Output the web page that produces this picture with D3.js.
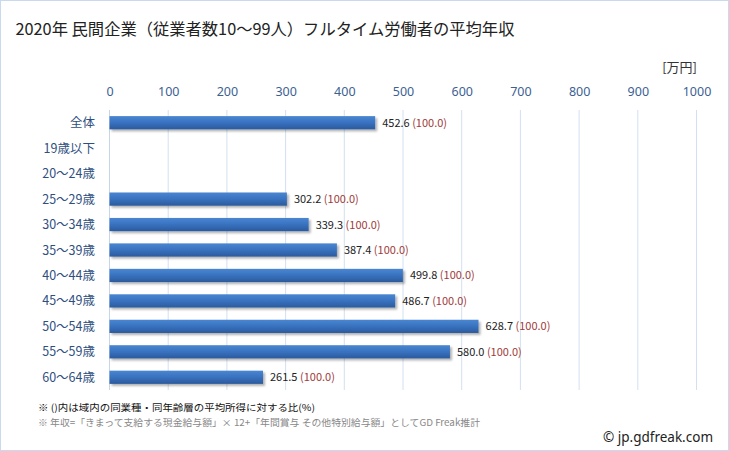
<!DOCTYPE html>
<html><head><meta charset="utf-8">
<script src="https://cdn.jsdelivr.net/npm/d3@7"></script>
<style>
body{margin:0;background:#fff;}
svg{display:block;font-family:"Noto Sans CJK JP","Noto Sans",sans-serif;}
</style></head><body>
<script>
const categories = ["全体","19歳以下","20〜24歳","25〜29歳","30〜34歳","35〜39歳","40〜44歳","45〜49歳","50〜54歳","55〜59歳","60〜64歳"];
const values = [452.6,null,null,302.2,339.3,387.4,499.8,486.7,628.7,580.0,261.5];
const ratios = [100.0,null,null,100.0,100.0,100.0,100.0,100.0,100.0,100.0,100.0];
const tickValues = [0,100,200,300,400,500,600,700,800,900,1000];

const W=729,H=451;
const svg=d3.select("body").append("svg").attr("width",W).attr("height",H);
const defs=svg.append("defs");
const g1=defs.append("linearGradient").attr("id","bg").attr("x1",0).attr("y1",0).attr("x2",0).attr("y2",1);
g1.append("stop").attr("offset","0%").attr("stop-color","#4a86d0");
g1.append("stop").attr("offset","45%").attr("stop-color","#3a74c2");
g1.append("stop").attr("offset","100%").attr("stop-color","#2b5a9c");
const f=defs.append("filter").attr("id","sh").attr("x","-5%").attr("y","-30%").attr("width","115%").attr("height","180%");
f.append("feDropShadow").attr("dx",2).attr("dy",2).attr("stdDeviation",1.2).attr("flood-color","#000").attr("flood-opacity",0.3);

svg.append("rect").attr("x",0.5).attr("y",0.5).attr("width",W-1).attr("height",H-1).attr("fill","#fff").attr("stroke","#c9d9ee");

svg.append("text").attr("x",15.5).attr("y",34.5).attr("font-size",16.3).attr("fill","#222").text("2020年 民間企業（従業者数10〜99人）フルタイム労働者の平均年収");
svg.append("text").attr("x",697).attr("y",72).attr("text-anchor","end").attr("font-size",13).attr("fill","#333").text("[万円]");

const x=d3.scaleLinear().domain([0,1000]).range([109.5,696.5]);
const y=d3.scaleBand().domain(categories).range([110,390]).paddingInner(0.48).paddingOuter(0.24);

// grid
svg.append("g").selectAll("line").data(tickValues.slice(1)).join("line")
  .attr("x1",d=>x(d)).attr("x2",d=>x(d)).attr("y1",110).attr("y2",390)
  .attr("stroke","#d3e0f1").attr("stroke-width",1);
svg.append("line").attr("x1",x(0)).attr("x2",x(0)).attr("y1",110).attr("y2",390).attr("stroke","#c5d5ea");

// top axis
const ax=svg.append("g").attr("transform","translate(0,95.5)")
  .call(d3.axisTop(x).tickValues(tickValues).tickFormat(d3.format("d")).tickSize(0).tickPadding(0));
ax.select(".domain").remove();
ax.selectAll("text").attr("font-size",12.5).attr("fill","#3d5f93").attr("font-family","'Noto Sans','Noto Sans CJK JP',sans-serif");

// category labels
svg.append("g").selectAll("text").data(categories).join("text")
  .attr("x",95).attr("y",d=>y(d)+y.bandwidth()/2+4.5).attr("text-anchor","end")
  .attr("font-size",12.5).attr("fill","#2f4f80").text(d=>d);

const data=categories.map((c,i)=>({c,v:values[i],r:ratios[i]})).filter(d=>d.v!=null);
svg.append("g").selectAll("rect").data(data).join("rect")
  .attr("x",x(0)).attr("y",d=>y(d.c)).attr("width",d=>x(d.v)-x(0)).attr("height",y.bandwidth())
  .attr("fill","url(#bg)").attr("filter","url(#sh)");

const lab=svg.append("g").selectAll("text").data(data).join("text")
  .attr("x",d=>x(d.v)+7).attr("y",d=>y(d.c)+y.bandwidth()/2+4).attr("font-size",11).attr("fill","#222");
lab.append("tspan").text(d=>d.v.toFixed(1)+" ");
lab.append("tspan").attr("fill","#a03a3a").text(d=>"("+d.r.toFixed(1)+")");

svg.append("text").attr("x",38).attr("y",411).attr("font-size",9.5).attr("fill","#111")
  .attr("textLength",277).attr("lengthAdjust","spacingAndGlyphs").text("※ ()内は域内の同業種・同年齢層の平均所得に対する比(%)");
svg.append("text").attr("x",38).attr("y",426).attr("font-size",9.5).attr("fill","#888")
  .attr("textLength",442).attr("lengthAdjust","spacingAndGlyphs").text("※ 年収=「きまって支給する現金給与額」× 12+「年間賞与 その他特別給与額」としてGD Freak推計");
svg.append("text").attr("x",713).attr("y",442).attr("text-anchor","end").attr("font-size",13.5).attr("fill","#222").attr("font-family","'Noto Sans',sans-serif").text("© jp.gdfreak.com");
</script>
</body></html>
